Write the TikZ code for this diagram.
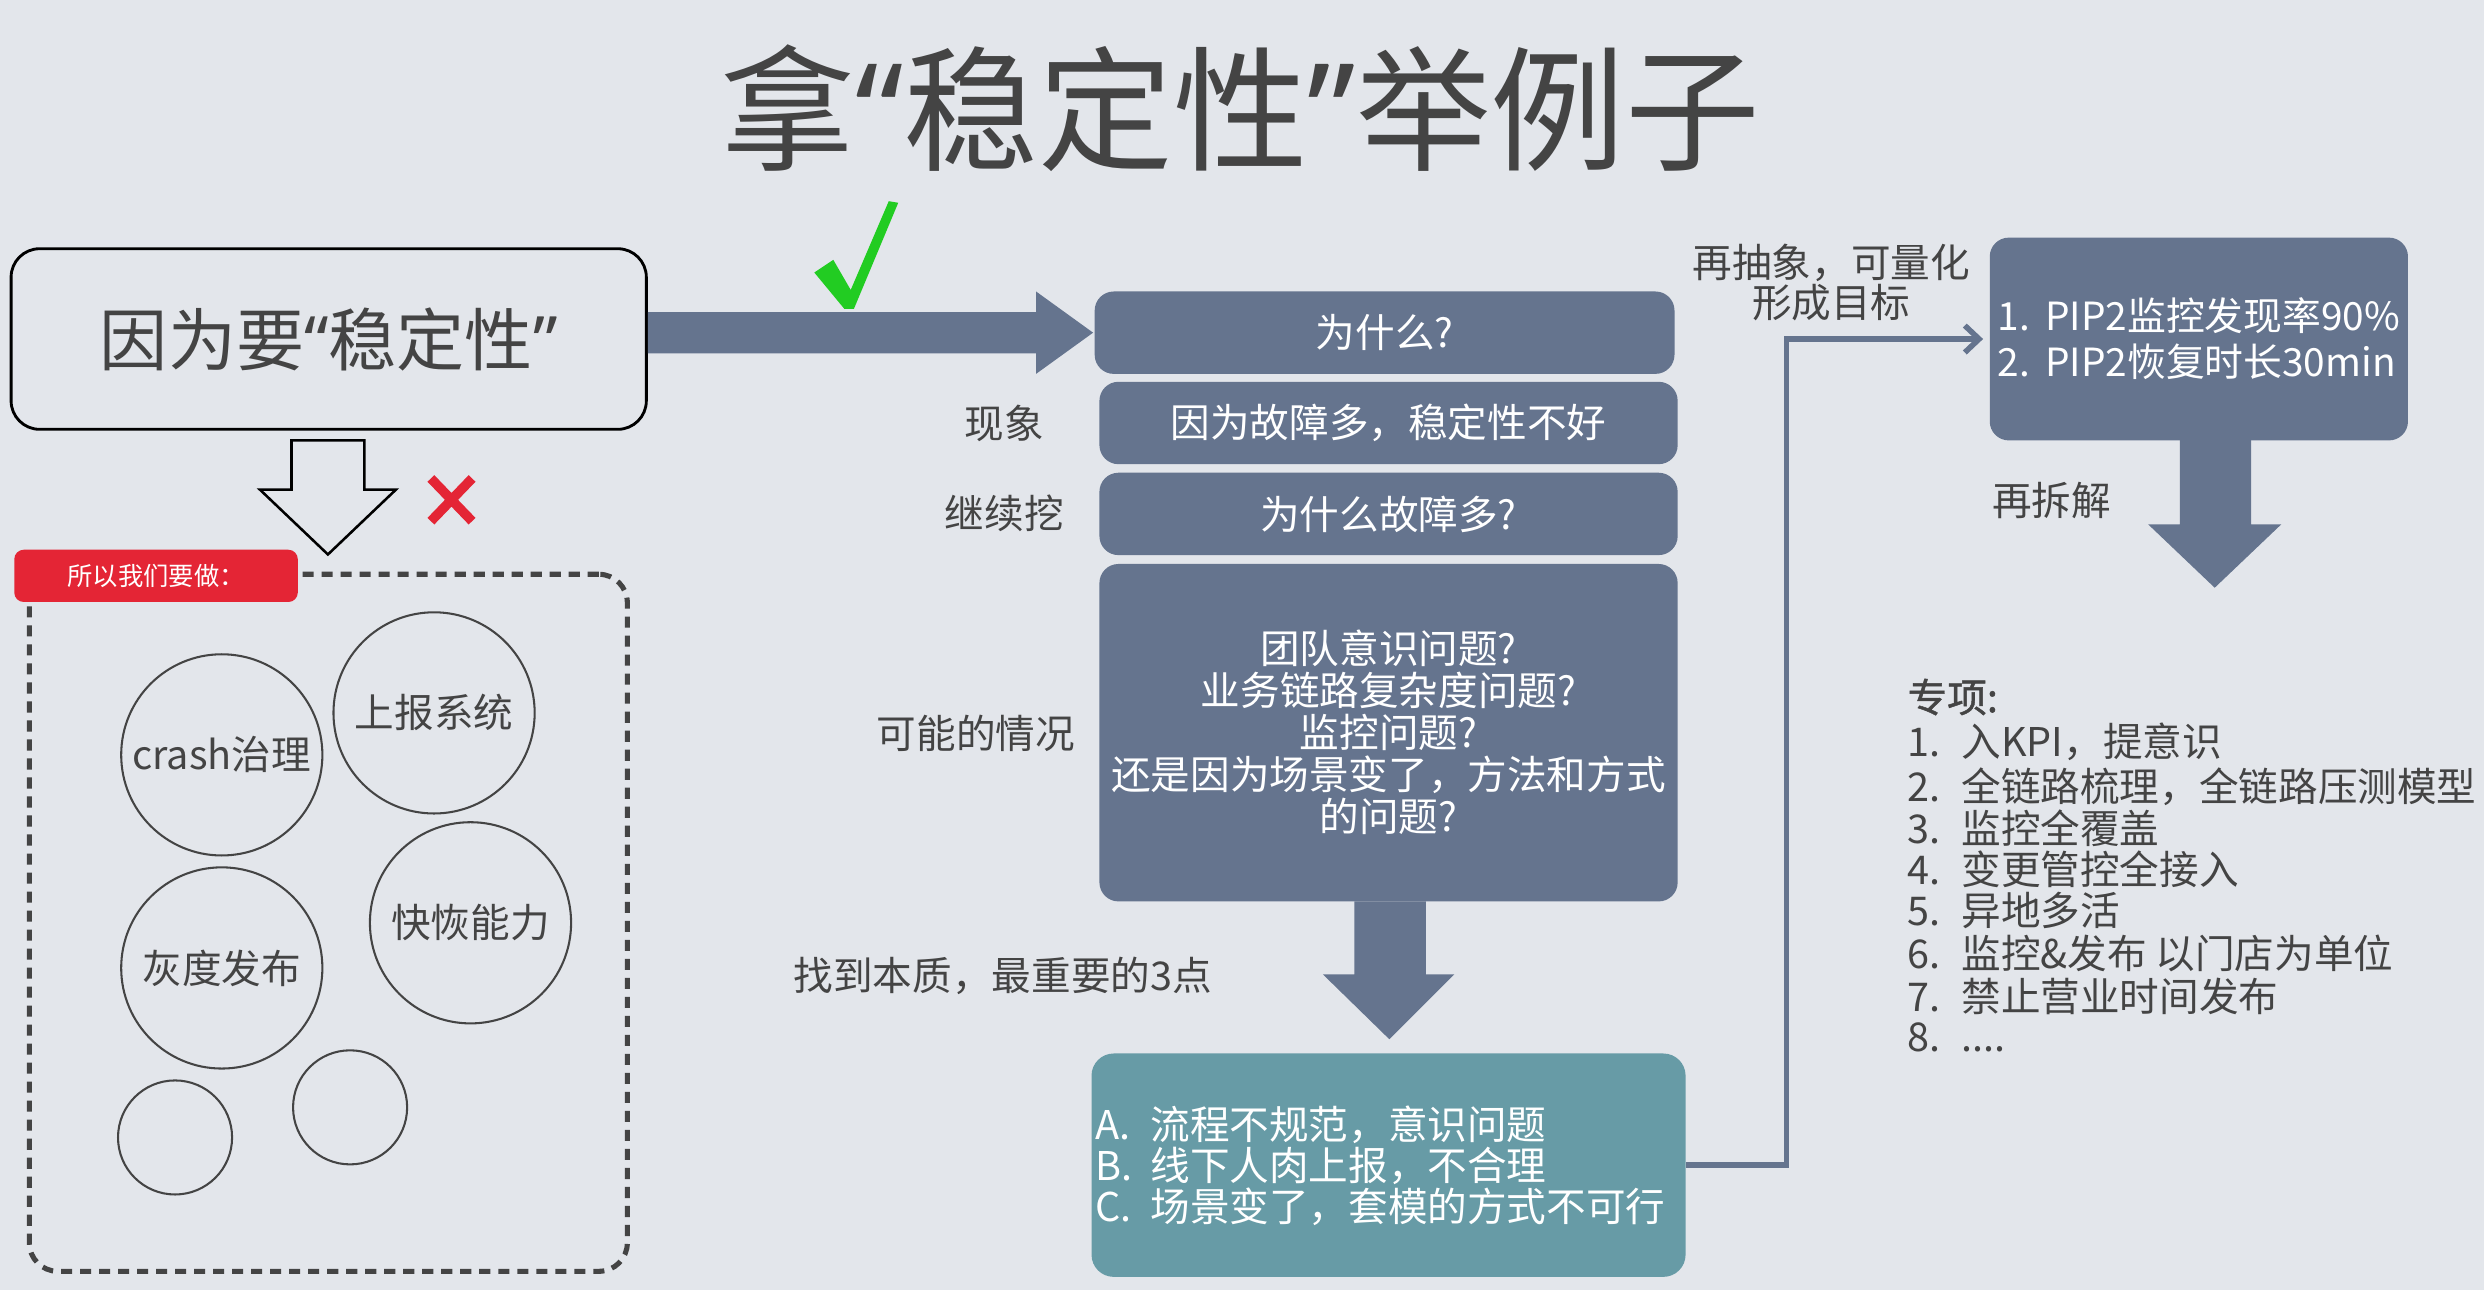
\documentclass[tikz,border=0pt]{standalone}
\usepackage{fontspec}
\setmainfont{Noto Sans CJK SC}
\newfontfamily\qfont{Noto Sans}
\newfontfamily\medcjk[FakeBold=1.2]{Noto Sans CJK SC}
\usetikzlibrary{arrows.meta,calc}
\definecolor{bg}{RGB}{227,230,235}
\definecolor{slate}{RGB}{101,116,142}
\definecolor{tealbox}{RGB}{103,155,166}
\definecolor{redx}{RGB}{228,37,53}
\definecolor{okgreen}{RGB}{34,204,34}
\definecolor{ink}{RGB}{68,68,68}
\newcommand{\oqt}{{\qfont “}}
\newcommand{\cqt}{{\qfont ”}}
\begin{document}
\begin{tikzpicture}[x=1pt,y=-1pt,
  lbl/.style={text=ink, font=\fontsize{25}{27}\selectfont, inner sep=0pt},
  sbox/.style={fill=slate, rounded corners=12pt, text=white, font=\fontsize{25}{26.5}\selectfont, inner sep=0pt, align=center},
  bubble/.style={circle, draw=ink, line width=1.3pt, text=ink, font=\fontsize{25}{27}\selectfont, inner sep=0pt},
  hollowarrow/.style={draw=black, line width=1.6pt, line join=miter}
]
\useasboundingbox (0,0) rectangle (1568,814);
\fill[bg] (0,0) rectangle (1568,814);

% title
\node[text=ink, font=\fontsize{85}{92}\selectfont, inner sep=0pt] (title) at (783,68) {拿\oqt{}稳定性\cqt{}举例子};

% left cause box
\node[draw=black, line width=1.8pt, rounded corners=18pt, minimum width=401pt, minimum height=114pt,
      text=ink, font=\fontsize{43}{47}\selectfont, inner sep=0pt] (cause) at (207.5,214) {因为要\oqt{}稳定性\cqt{}};

% big right arrow
\fill[slate] (cause.east |- 0,197) -- (654,197) -- (654,184) -- (690,210) -- (654,236) -- (654,223) -- (cause.east |- 0,223) -- cycle;

% green check
\fill[okgreen] (514,172) -- (526,164) -- (537,183) -- (561,127) -- (567,128) -- (539,195) -- (533,195) -- cycle;

% hollow down arrow
\draw[hollowarrow] (184,278) -- (184,309) -- (164,309) -- (207,350) -- (250,309) -- (230,309) -- (230,278) -- cycle;

% red x
\draw[redx, line width=6pt] (272,302) -- (298,329) (298,302) -- (272,329);

% dashed box
\node[draw=ink, line width=3.2pt, dash pattern=on 7pt off 5pt, rounded corners=18pt,
      minimum width=377.5pt, minimum height=440pt, inner sep=0pt] (dbox) at (207.25,582.5) {};

% red label
\node[fill=redx, rounded corners=6pt, minimum width=179pt, minimum height=33pt, inner sep=0pt,
      text=white, font=\fontsize{16}{18}\selectfont] (todo) at (98.5,363.5) {所以我们要做：};

% circles
\node[bubble, minimum size=127pt] (c1) at (140,476.5) {crash治理};
\node[bubble, minimum size=127pt] (c2) at (274,450) {上报系统};
\node[bubble, minimum size=127pt] (c3) at (140,611) {灰度发布};
\node[bubble, minimum size=127pt] (c4) at (297,582.5) {快恢能力};
\node[bubble, minimum size=72pt] (c5) at (110.5,718) {};
\node[bubble, minimum size=72pt] (c6) at (221,699) {};

% middle column boxes
\node[sbox, minimum width=366pt, minimum height=52pt] (why) at (874,210) {为什么?};
\node[sbox, minimum width=365pt, minimum height=52pt] (phen) at (876.5,267) {因为故障多，稳定性不好};
\node[sbox, minimum width=365pt, minimum height=52pt] (dig) at (876.5,324.4) {为什么故障多?};
\node[sbox, minimum width=365pt, minimum height=213pt] (poss) at (876.5,462.5)
  {团队意识问题?\\业务链路复杂度问题?\\监控问题?\\还是因为场景变了，方法和方式\\的问题?};

% left labels
\node[lbl] (l1) at (634,267) {现象};
\node[lbl] (l2) at (634,324) {继续挖};
\node[lbl] (l3) at (616,463) {可能的情况};
\node[lbl] (l4) at (633,616) {找到本质，最重要的3点};

% down arrow to teal
\fill[slate] (855,569) -- (855,615) -- (835,615) -- (877,656) -- (918,615) -- (900,615) -- (900,569) -- cycle;

% teal box
\node[fill=tealbox, rounded corners=14pt, minimum width=375pt, minimum height=141pt, inner sep=0pt] (teal) at (876.5,735.5) {};
\node[text=white, font=\fontsize{25}{25.8}\selectfont, inner sep=0pt, align=left, anchor=west] (tealtxt) at (691,736)
  {\makebox[35pt][l]{A.}流程不规范，意识问题\\\makebox[35pt][l]{B.}线下人肉上报，不合理\\\makebox[35pt][l]{C.}场景变了，套模的方式不可行};

% goal box
\node[sbox, minimum width=264pt, minimum height=128pt, align=left, font=\fontsize{24.5}{29}\selectfont] (goal) at (1388,214)
  {\makebox[30pt][l]{1.}PIP2监控发现率90\%\\\makebox[30pt][l]{2.}PIP2恢复时长30min};

% connector teal -> goal
\draw[slate, line width=3.5pt, -{Straight Barb[length=9pt,width=17pt]}, shorten >=4pt]
  (teal.east) -| ($(goal.west)+(-128,0)$) -- (goal.west);
\node[lbl, align=center, font=\fontsize{25}{25}\selectfont] (abs) at (1156,178.5) {再抽象，可量化\\形成目标};

% down arrow from goal
\fill[slate] (1376,277) -- (1376,331) -- (1356,331) -- (1398,371) -- (1440,331) -- (1421,331) -- (1421,277) -- cycle;
\node[lbl] (split) at (1295,316) {再拆解};

% list
\node[lbl, anchor=west, font=\medcjk\fontsize{25}{27}\selectfont] (zx) at (1204,440) {专项:};
\foreach \n/\t/\y in {1/{入KPI，提意识}/468, 2/{全链路梳理，全链路压测模型}/496.5, 3/{监控全覆盖}/523,
  4/{变更管控全接入}/549, 5/{异地多活}/575, 6/{监控\&发布 以门店为单位}/602, 7/{禁止营业时间发布}/629, 8/{....}/655}
  \node[lbl, anchor=west] (it\n) at (1204,\y) {\makebox[34pt][l]{\n.}\t};
\end{tikzpicture}
\end{document}
